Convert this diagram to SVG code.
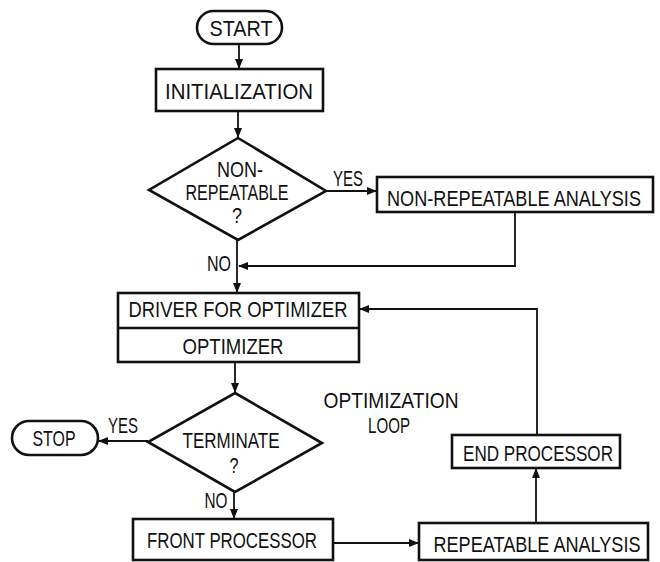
<svg xmlns="http://www.w3.org/2000/svg" width="660" height="562" viewBox="0 0 660 562">
<defs>
<marker id="ah" markerWidth="10" markerHeight="8" refX="9" refY="4" orient="auto" markerUnits="userSpaceOnUse">
<path d="M0,0 L10,4 L0,8 Z" fill="#111"/>
</marker>
<style>
.box{fill:#fff;stroke:#111;stroke-width:2.6}
.ln{fill:none;stroke:#111;stroke-width:1.8}
.t{font-family:"Liberation Sans",Arial,sans-serif;font-size:22.5px;fill:#111;text-anchor:middle}
</style>
</defs>
<rect width="660" height="562" fill="#fff"/>
<g id="connectors">
<path class="ln" d="M239,44 L239,68" marker-end="url(#ah)"/>
<path class="ln" d="M238,111 L238,137" marker-end="url(#ah)"/>
<path class="ln" d="M326,191 L376,191" marker-end="url(#ah)"/>
<path class="ln" d="M515,212 L515,266 L239,266" marker-end="url(#ah)"/>
<path class="ln" d="M237,240 L237,292" marker-end="url(#ah)"/>
<path class="ln" d="M537,435 L537,309 L360,309" marker-end="url(#ah)"/>
<path class="ln" d="M235,362 L235,392" marker-end="url(#ah)"/>
<path class="ln" d="M148,441 L99,441" marker-end="url(#ah)"/>
<path class="ln" d="M234,492 L234,518" marker-end="url(#ah)"/>
<path class="ln" d="M333,543 L418,543" marker-end="url(#ah)"/>
<path class="ln" d="M536,523 L536,469" marker-end="url(#ah)"/>
</g>
<g id="start">
<rect class="box" x="197" y="11" width="85" height="33" rx="16.5"/>
<text class="t" x="241" y="36" textLength="63" lengthAdjust="spacingAndGlyphs">START</text>
</g>
<g id="initialization">
<rect class="box" x="156" y="69" width="167" height="42"/>
<text class="t" x="239" y="99" textLength="148" lengthAdjust="spacingAndGlyphs">INITIALIZATION</text>
</g>
<g id="nonrep-decision">
<polygon class="box" points="238,138 326,191 238,240 149,190"/>
<text class="t" x="240" y="177" textLength="46" lengthAdjust="spacingAndGlyphs">NON-</text>
<text class="t" x="237" y="200" textLength="103" lengthAdjust="spacingAndGlyphs">REPEATABLE</text>
<text class="t" x="237" y="223" textLength="10" lengthAdjust="spacingAndGlyphs">?</text>
</g>
<text class="t" x="348" y="186" textLength="30" lengthAdjust="spacingAndGlyphs">YES</text>
<text class="t" x="219" y="271" textLength="24" lengthAdjust="spacingAndGlyphs">NO</text>
<g id="nonrep-analysis">
<rect class="box" x="377" y="177" width="276" height="35"/>
<text class="t" x="514" y="206" textLength="254" lengthAdjust="spacingAndGlyphs">NON-REPEATABLE ANALYSIS</text>
</g>
<g id="driver">
<rect class="box" x="118" y="293" width="241" height="69"/>
<line class="box" x1="118" y1="328" x2="359" y2="328"/>
<text class="t" x="238" y="317" textLength="219" lengthAdjust="spacingAndGlyphs">DRIVER FOR OPTIMIZER</text>
<text class="t" x="233" y="354" textLength="101" lengthAdjust="spacingAndGlyphs">OPTIMIZER</text>
</g>
<g id="loop-label">
<text class="t" x="391" y="408" textLength="135" lengthAdjust="spacingAndGlyphs">OPTIMIZATION</text>
<text class="t" x="389" y="433" textLength="42" lengthAdjust="spacingAndGlyphs">LOOP</text>
</g>
<g id="terminate">
<polygon class="box" points="235,393 322,443 235,492 148,442"/>
<text class="t" x="231" y="448" textLength="97" lengthAdjust="spacingAndGlyphs">TERMINATE</text>
<text class="t" x="234" y="473" textLength="9" lengthAdjust="spacingAndGlyphs">?</text>
</g>
<text class="t" x="123" y="433" textLength="30" lengthAdjust="spacingAndGlyphs">YES</text>
<text class="t" x="216" y="508" textLength="23" lengthAdjust="spacingAndGlyphs">NO</text>
<g id="stop">
<rect class="box" x="12" y="421" width="86" height="34" rx="17"/>
<text class="t" x="54" y="446" textLength="43" lengthAdjust="spacingAndGlyphs">STOP</text>
</g>
<g id="front">
<rect class="box" x="133" y="519" width="200" height="41"/>
<text class="t" x="232" y="548" textLength="170" lengthAdjust="spacingAndGlyphs">FRONT PROCESSOR</text>
</g>
<g id="repeatable">
<rect class="box" x="419" y="523" width="229" height="37"/>
<text class="t" x="537" y="552" textLength="207" lengthAdjust="spacingAndGlyphs">REPEATABLE ANALYSIS</text>
</g>
<g id="end">
<rect class="box" x="452" y="435" width="168" height="33"/>
<text class="t" x="538" y="461" textLength="150" lengthAdjust="spacingAndGlyphs">END PROCESSOR</text>
</g>
</svg>
